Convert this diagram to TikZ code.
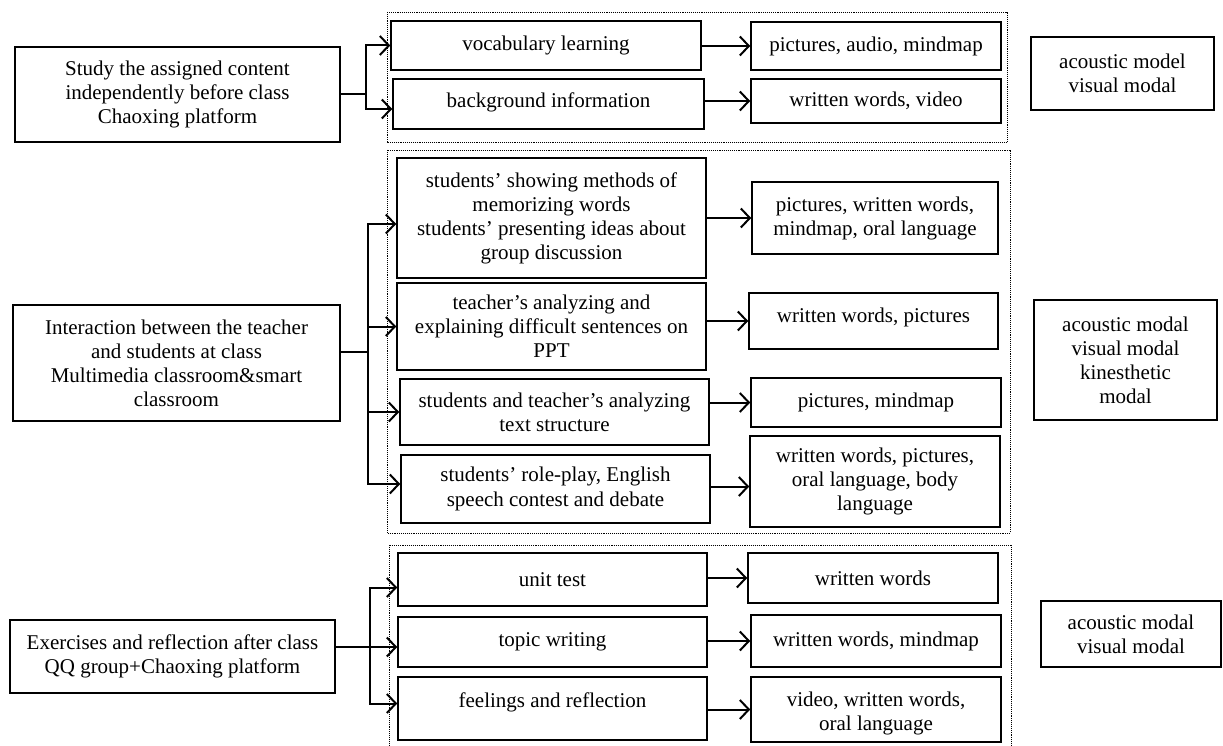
\documentclass[tikz,border=0pt]{standalone}
\usepackage{fontspec}
\setmainfont{Liberation Serif}
\usetikzlibrary{arrows.meta}
\begin{document}
\begin{tikzpicture}[x=1pt,y=-1pt,
  box/.style={draw, line width=1.5pt, fill=white, inner sep=2pt, align=center,
    font=\fontsize{21}{24}\selectfont},
  grp/.style={densely dotted, line width=0.9pt},
  conn/.style={line width=2pt},
  arr/.style={line width=2pt, -{Straight Barb[length=9pt,width=19pt]}}]
\useasboundingbox (0,0) rectangle (1223,746);
% dotted groups
\draw[grp] (387,12) rectangle (1007,142);
\draw[grp] (387,150) rectangle (1010,533);
\draw[grp] (389,545) rectangle (1011,760);
% group 1
\node[box, minimum width=325pt, minimum height=95pt] (L1) at (177.5,94.5)
  {Study the assigned content\\independently before class\\Chaoxing platform};
\node[box, minimum width=310pt, minimum height=49pt] (vocab) at (546,45.5) {vocabulary learning};
\node[box, minimum width=311pt, minimum height=50pt] (bg) at (548.5,104) {\raisebox{2pt}[\height][\depth]{background information}};
\node[box, minimum width=250pt, minimum height=48pt] (pam) at (876,46) {pictures, audio, mindmap};
\node[box, minimum width=250pt, minimum height=44pt] (wwv) at (876,101) {written words, video};
\node[box, minimum width=183pt, minimum height=73pt] (mod1) at (1122.5,73.5) {acoustic model\\visual modal};
% group 2
\node[box, minimum width=327pt, minimum height=116pt] (L2) at (176.5,363)
  {Interaction between the teacher\\and students at class\\Multimedia classroom\&smart\\classroom};
\node[box, minimum width=309pt, minimum height=120pt] (M1) at (551.5,218)
  {students’ showing methods of\\memorizing words\\students’ presenting ideas about\\group discussion};
\node[box, minimum width=309pt, minimum height=87pt] (M2) at (551.5,326.5)
  {teacher’s analyzing and\\explaining difficult sentences on\\PPT};
\node[box, minimum width=309pt, minimum height=66pt] (M3) at (554.5,412)
  {students and teacher’s analyzing\\text structure};
\node[box, minimum width=309pt, minimum height=68pt] (M4) at (555.5,489)
  {\raisebox{1pt}[\height][\depth]{students’ role-play, English}\\speech contest and debate};
\node[box, minimum width=246pt, minimum height=72pt] (R1) at (875,218)
  {pictures, written words,\\mindmap, oral language};
\node[box, minimum width=249pt, minimum height=56pt] (R2) at (873.5,321)
  {\raisebox{4pt}[\height][\depth]{written words, pictures}};
\node[box, minimum width=250pt, minimum height=49pt] (R3) at (876,402.5) {pictures, mindmap};
\node[box, minimum width=250pt, minimum height=91pt] (R4) at (875,481.5)
  {written words, pictures,\\oral language, body\\language};
\node[box, minimum width=183pt, minimum height=120pt] (mod2) at (1125.5,360)
  {acoustic modal\\visual modal\\kinesthetic\\modal};
% group 3
\node[box, minimum width=325pt, minimum height=73pt] (L3) at (172.5,656.5)
  {Exercises and reflection after class\\QQ group+Chaoxing platform};
\node[box, minimum width=309pt, minimum height=53pt] (B1) at (552.5,579.5) {unit test};
\node[box, minimum width=309pt, minimum height=50pt] (B2) at (552.5,642) {topic writing};
\node[box, minimum width=309pt, minimum height=63pt] (B3) at (552.5,708.5)
  {\raisebox{6pt}[\height][\depth]{feelings and reflection}};
\node[box, minimum width=250pt, minimum height=50pt] (S1) at (873,578) {written words};
\node[box, minimum width=250pt, minimum height=52pt] (S2) at (876,641) {written words, mindmap};
\node[box, minimum width=250pt, minimum height=65pt] (S3) at (876,709.5)
  {\raisebox{-4pt}[\height][\depth]{video, written words,}\\\raisebox{-4pt}[\height][\depth]{oral language}};
\node[box, minimum width=180pt, minimum height=66pt] (mod3) at (1131,634) {acoustic modal\\visual modal};
% connectors group 1
\coordinate (b1) at (366,94.5);
\draw[conn] (L1.east) -- (b1);
\draw[arr] (b1) |- (vocab.west);
\draw[arr] (b1) |- ([yshift=-5pt]bg.west);
\draw[arr] (vocab.east |- pam.west) -- (pam.west);
\draw[arr] (bg.east |- wwv.west) -- (wwv.west);
% connectors group 2
\coordinate (b2) at (368,352);
\draw[conn] ([yshift=11pt]L2.east) -- (b2);
\draw[arr] (b2) |- ([yshift=-6pt]M1.west);
\draw[arr] (b2) |- (M2.west);
\draw[arr] (b2) |- (M3.west);
\draw[arr] (b2) |- ([yshift=5pt]M4.west);
\draw[arr] (M1.east |- R1.west) -- (R1.west);
\draw[arr] (M2.east |- R2.west) -- (R2.west);
\draw[arr] (M3.east |- R3.west) -- (R3.west);
\coordinate (r4in) at ([yshift=-5pt]R4.west);
\draw[arr] (M4.east |- r4in) -- (r4in);
% connectors group 3
\coordinate (b3) at (370,647);
\draw[conn] ([yshift=9.5pt]L3.east) -- (b3);
\draw[arr] (b3) |- ([yshift=-8pt]B1.west);
\draw[arr] (b3) |- ([yshift=-5pt]B2.west);
\draw[arr] (b3) |- ([yshift=5pt]B3.west);
\draw[arr] (B1.east |- S1.west) -- (S1.west);
\draw[arr] (B2.east |- S2.west) -- (S2.west);
\draw[arr] (B3.east |- S3.west) -- (S3.west);
\end{tikzpicture}
\end{document}
